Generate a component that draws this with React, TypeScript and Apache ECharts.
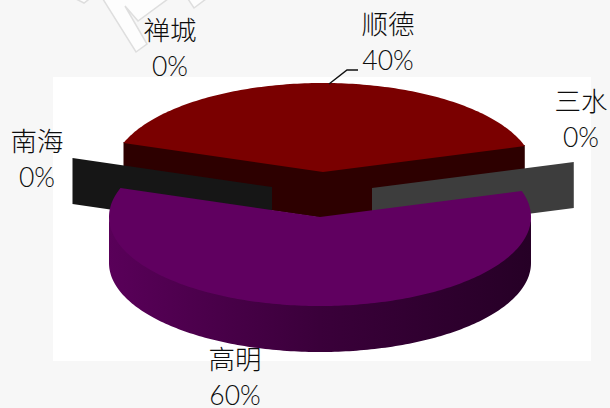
import React, { useEffect, useRef } from "react";
import * as echarts from "echarts";

// Districts in the order they run round the pie, anticlockwise from startDeg.
const districts = ["顺德", "南海", "高明", "三水", "禅城"];
const shares = [40, 0, 60, 0, 0];

const W = 610;
const H = 408;
const RX = 211;
const RY = 89;
const DEPTH = 46;
const startDeg = 17;
const LABEL_GAP = 36;

// Where each exploded slice sits and how it is painted.
const sliceStyle: Record<string, any> = {
  顺德: { cx: 323, cy: 172, top: "#7a0000", cut: "#2d0000", z: 1, label: [388, 24] },
  南海: { cx: 272, cy: 187, cut: "#161616", z: 2, label: [37, 141] },
  高明: { cx: 320, cy: 217, top: "#600060", z: 4, label: [235, 358.5] },
  三水: { cx: 372, cy: 188, cut: "#3d3d3d", z: 3, label: [581, 101] },
  禅城: { z: 0, label: [170, 30] },
};

const pointAt = (cx: number, cy: number, deg: number): number[] => {
  const t = (deg * Math.PI) / 180;
  return [cx + RX * Math.cos(t), cy - RY * Math.sin(t)];
};

const arc = (cx: number, cy: number, from: number, to: number): number[][] => {
  const pts: number[][] = [];
  const steps = Math.max(2, Math.ceil(Math.abs(to - from)));
  for (let i = 0; i <= steps; i++) pts.push(pointAt(cx, cy, from + ((to - from) * i) / steps));
  return pts;
};

// Radial cut face; `tuck` lifts its top edge under the slice's top face to hide the seam.
const cutFace = (cx: number, cy: number, deg: number, tuck = 0): number[][] => {
  const rim = pointAt(cx, cy, deg);
  return [
    [cx, cy - tuck],
    [rim[0], rim[1] - tuck],
    [rim[0], rim[1] + DEPTH],
    [cx, cy + DEPTH],
  ];
};

const poly = (points: number[][], fill: any, z2: number) => ({
  type: "polygon",
  z2,
  shape: { points },
  style: { fill },
});

const labelLine = (x: number, y: number, text: string) => ({
  type: "text",
  z2: 100,
  style: {
    x,
    y,
    text,
    fill: "#0d0d0d",
    font: '300 26.5px Lato, "Noto Sans CJK SC", sans-serif',
    lineHeight: 26,
    align: "center",
    verticalAlign: "middle",
  },
});

export default function App() {
  const ref = useRef<HTMLDivElement>(null);

  useEffect(() => {
    const chart = echarts.init(ref.current!, undefined, { renderer: "svg" });
    const total = shares.reduce((a, b) => a + b, 0);

    const renderSlice = (params: any, api: any) => {
      const name = districts[params.dataIndex];
      const value = api.value(0);
      const before = shares.slice(0, params.dataIndex).reduce((a, b) => a + b, 0);
      const from = startDeg + (before / total) * 360;
      const to = from + (value / total) * 360;
      const s = sliceStyle[name];
      const children: any[] = [];

      if (s.cx !== undefined) {
        if (value === 0) {
          children.push(poly(cutFace(s.cx, s.cy, from), s.cut, s.z * 10));
        } else {
          if (s.cut) {
            children.push(poly(cutFace(s.cx, s.cy, from, 1), s.cut, s.z * 10));
            children.push(poly(cutFace(s.cx, s.cy, to, 1), s.cut, s.z * 10));
          } else {
            // Outer wall: only the part of the rim facing the viewer is visible.
            // Its upper edge runs a little under the top face so no seam shows.
            const lo = Math.max(from, 180);
            const hi = Math.min(to, 360);
            const upper = arc(s.cx, s.cy, lo, hi);
            const lower = upper.map((p) => [p[0], p[1] + DEPTH]).reverse();
            const tucked = upper.map((p) => [p[0], p[1] - 3]);
            children.push(
              poly(
                tucked.concat(lower),
                new echarts.graphic.LinearGradient(0, 0, 1, 0, [
                  { offset: 0, color: "#590059" },
                  { offset: 0.5, color: "#3a003a" },
                  { offset: 1, color: "#260026" },
                ]),
                s.z * 10,
              ),
            );
          }
          children.push(
            poly([[s.cx, s.cy], ...arc(s.cx, s.cy, from, to)], s.top, s.z * 10 + 1),
          );
        }
      }

      children.push(labelLine(s.label[0], s.label[1], name));
      children.push(
        labelLine(s.label[0], s.label[1] + LABEL_GAP, `${Math.round((value / total) * 100)}%`),
      );

      if (name === "顺德") {
        children.push({
          type: "polyline",
          z2: 100,
          shape: { points: [[329, 84], [347, 70], [358, 70]] },
          style: { stroke: "#111111", lineWidth: 1.5, fill: "none" },
        });
      }
      return { type: "group", children };
    };

    chart.setOption({
      animation: false,
      backgroundColor: "#f7f7f7",
      graphic: [
        {
          type: "polygon",
          silent: true,
          shape: {
            points: [[101, -4], [136, 52], [147, 44], [125, 6], [138, 21], [172, -4]],
          },
          style: { fill: "#fdfdfd", stroke: "#dedede", lineWidth: 1.5 },
        },
        {
          type: "polygon",
          silent: true,
          shape: { points: [[186, -4], [194, 8], [210, -4]] },
          style: { fill: "#fdfdfd", stroke: "#dedede", lineWidth: 1.5 },
        },
        {
          type: "polygon",
          silent: true,
          shape: { points: [[72, -3], [84, 3], [92, -3]] },
          style: { fill: "#fdfdfd", stroke: "#dedede", lineWidth: 1.5 },
        },
        {
          type: "rect",
          silent: true,
          shape: { x: 53, y: 77, width: 538, height: 284 },
          style: { fill: "#ffffff" },
        },
      ],
      series: [
        {
          type: "custom",
          coordinateSystem: "none",
          silent: true,
          renderItem: renderSlice,
          data: shares.map((v) => [v]),
        },
      ],
    });
    return () => chart.dispose();
  }, []);

  return (
    <div
      ref={ref}
      style={{ position: "absolute", left: 0, top: 0, width: W, height: H }}
    />
  );
}
